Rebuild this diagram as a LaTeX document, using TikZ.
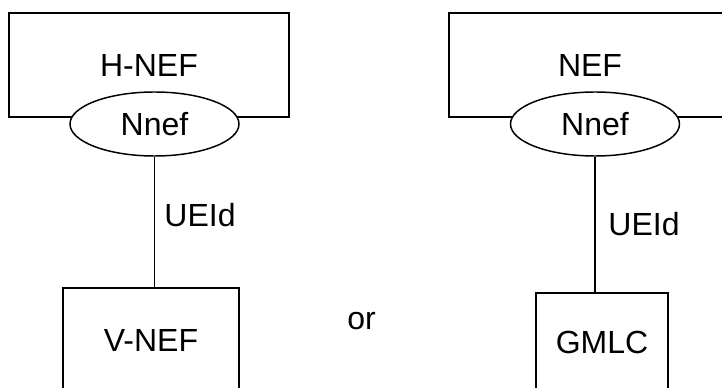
\documentclass[tikz,border=0pt]{standalone}
\usepackage{fontspec}
\setmainfont{Liberation Sans}
\usetikzlibrary{shapes.geometric}
\begin{document}
\begin{tikzpicture}[x=0.75pt,y=-0.75pt,
  txt/.style={font=\fontsize{24}{28}\selectfont},
  box/.style={txt, draw, line width=1.5pt, inner sep=0pt},
  iface/.style={txt, draw, ellipse, fill=white, line width=1.1pt, inner sep=0pt,
    minimum width=126.75pt, minimum height=48pt},
  lbl/.style={txt, inner sep=0pt},
  link/.style={line width=1.2pt}]
\useasboundingbox (0,0) rectangle (722,388);
\clip (0,0) rectangle (722,388);
% left group
\node[box, minimum width=210pt, minimum height=78pt] (hnef) at (149,65) {H-NEF};
\node[iface] (nnefL) at (154.5,124) {Nnef};
\node[box, minimum width=132pt, minimum height=78pt] (vnef) at (151,340) {V-NEF};
\draw[link] (nnefL.south) -- (nnefL.south |- vnef.north);
\node[lbl] (ueidL) at (200,215) {UEId};
% middle
\node[lbl, anchor=base] (or) at (361.5,330) {or};
% right group
\node[box, minimum width=211.5pt, minimum height=78pt] (nef) at (590,65) {NEF};
\node[iface] (nnefR) at (595,124) {Nnef};
\node[box, minimum width=99pt, minimum height=74.25pt] (gmlc) at (602,342.5) {GMLC};
\draw[link] (nnefR.south) -- (nnefR.south |- gmlc.north);
\node[lbl] (ueidR) at (644,224) {UEId};
\end{tikzpicture}
\end{document}
